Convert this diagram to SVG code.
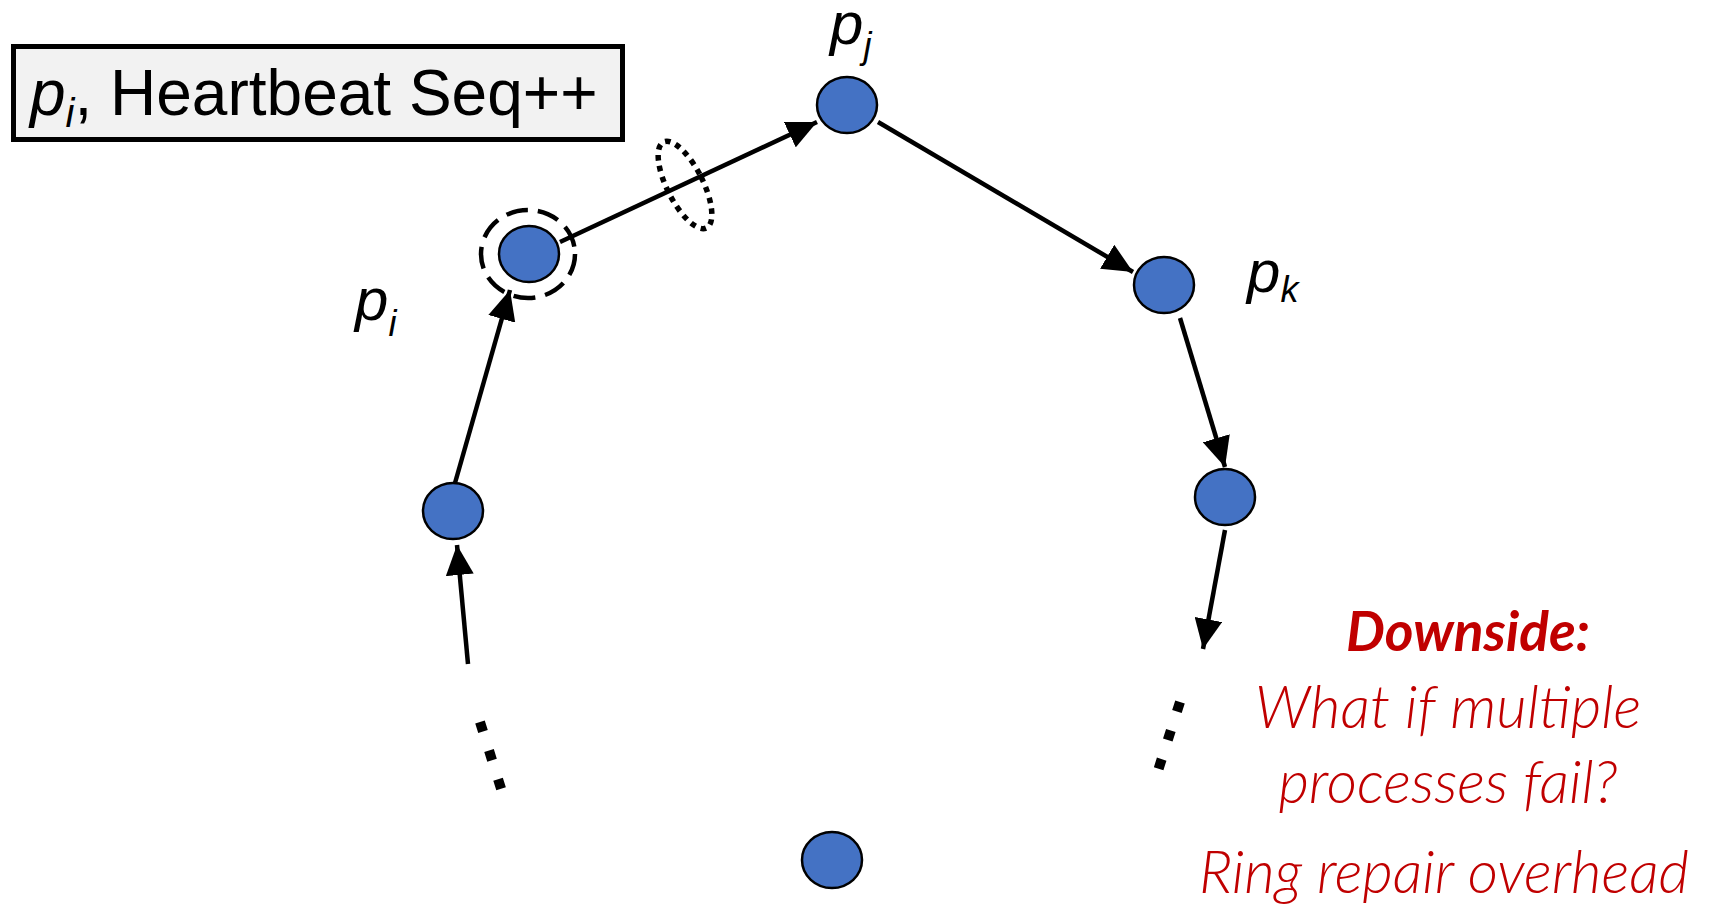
<svg xmlns="http://www.w3.org/2000/svg" width="1709" height="909" viewBox="0 0 1709 909">
<style>
.node{fill:#4472c4;stroke:#000;stroke-width:2.5}
.edge{stroke:#000;stroke-width:4.5;fill:none;marker-end:url(#arr)}
.dots{stroke:#000;stroke-width:10;fill:none;stroke-dasharray:10 20}
.lbl{font-family:"Liberation Sans",Arial,sans-serif;font-style:italic;fill:#000}
.red{font-family:Lato,"Open Sans",sans-serif;font-style:italic;fill:#c00000;text-anchor:middle}
</style>
<defs>
<marker id="arr" markerUnits="userSpaceOnUse" markerWidth="32" markerHeight="28" refX="30" refY="14" orient="auto">
<path d="M0,0 L30,14 L0,28 z" fill="#000"/>
</marker>
</defs>
<rect width="1709" height="909" fill="#fff"/>
<g id="title">
<rect x="13.5" y="46.5" width="609" height="93" fill="#f2f2f2" stroke="#000" stroke-width="5"/>
<text x="30" y="115" font-family="Liberation Sans,Arial,sans-serif" font-size="64" fill="#000"><tspan font-style="italic">p</tspan><tspan font-style="italic" font-size="40" dy="12">i</tspan><tspan dy="-12">, Heartbeat Seq++</tspan></text>
</g>
<g id="connectors">
<line class="edge" x1="468" y1="664" x2="457" y2="545"/>
<line class="edge" x1="455" y1="483" x2="510" y2="290"/>
<line class="edge" x1="560" y1="242" x2="817" y2="122"/>
<line class="edge" x1="878" y1="122" x2="1133" y2="272"/>
<line class="edge" x1="1180" y1="318" x2="1225" y2="467"/>
<line class="edge" x1="1225" y1="530" x2="1203" y2="649"/>
<line class="dots" x1="480" y1="722" x2="504" y2="798"/>
<line class="dots" x1="1180" y1="702" x2="1155" y2="780"/>
</g>
<g id="marker-ellipse">
<ellipse cx="685" cy="185" rx="18" ry="48" transform="rotate(-26.6 685 185)" fill="none" stroke="#000" stroke-width="5.5" stroke-dasharray="5.5 5.5"/>
</g>
<g id="node-pi">
<ellipse cx="528" cy="254" rx="47" ry="44" fill="none" stroke="#000" stroke-width="4.5" stroke-dasharray="22 10"/>
<ellipse class="node" cx="529" cy="254" rx="30" ry="28"/>
<text class="lbl" x="355" y="320" font-size="60">p<tspan font-size="36" dy="16">i</tspan></text>
</g>
<g id="node-pj">
<ellipse class="node" cx="847" cy="105" rx="30" ry="28"/>
<text class="lbl" x="830" y="44" font-size="60">p<tspan font-size="36" dy="14">j</tspan></text>
</g>
<g id="node-pk">
<ellipse class="node" cx="1164" cy="285" rx="30" ry="28"/>
<text class="lbl" x="1247" y="292" font-size="60">p<tspan font-size="36" dy="10">k</tspan></text>
</g>
<g id="node-left">
<ellipse class="node" cx="453" cy="511" rx="30" ry="28"/>
</g>
<g id="node-right">
<ellipse class="node" cx="1225" cy="497" rx="30" ry="28"/>
</g>
<g id="node-bottom">
<ellipse class="node" cx="832" cy="860" rx="30" ry="28"/>
</g>
<g id="downside">
<text class="red" x="1468" y="651" font-size="55" font-weight="bold">Downside:</text>
<text class="red" x="1448" y="728" font-size="59" font-weight="300">What if multiple</text>
<text class="red" x="1448" y="803" font-size="59" font-weight="300">processes fail?</text>
<text class="red" x="1444" y="893" font-size="59" font-weight="300">Ring repair overhead</text>
</g>
</svg>
